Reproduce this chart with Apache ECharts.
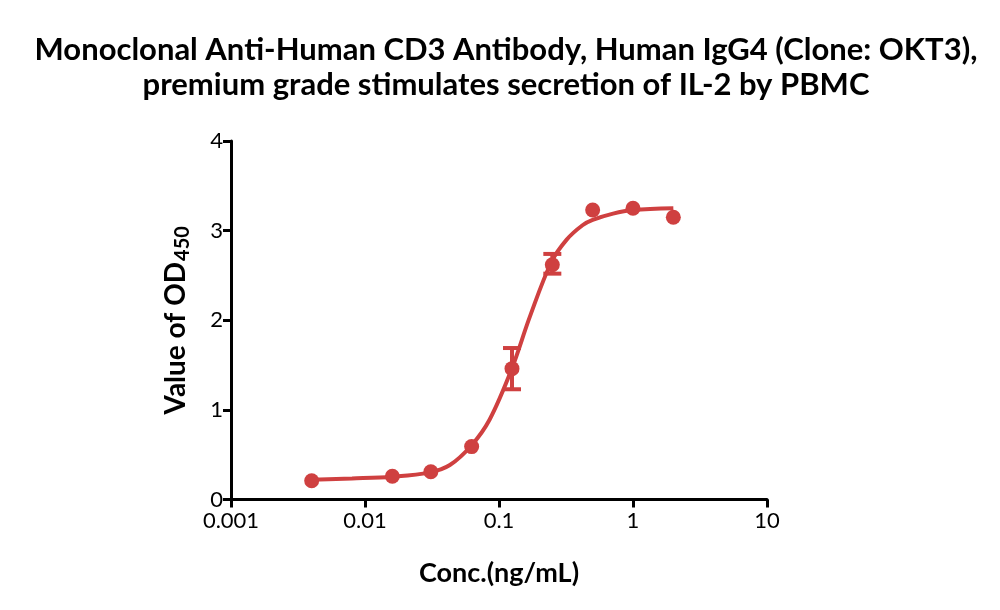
<!DOCTYPE html>
<html>
<head>
<meta charset="utf-8">
<script src="https://cdn.jsdelivr.net/npm/echarts@6/dist/echarts.min.js"></script>
<style>
  html, body { margin: 0; padding: 0; background: #fff; }
  #chart-box { width: 1000px; height: 610px; }
</style>
</head>
<body>
<div id="chart-box"></div>
<script>
// measured points (ng/mL vs OD450)
const conc = [0.004, 0.016, 0.031, 0.0625, 0.125, 0.25, 0.5, 1, 2];
const od = [0.21, 0.26, 0.31, 0.59, 1.46, 2.62, 3.23, 3.25, 3.15];
const errLow = [null, null, null, null, 1.23, 2.52, null, null, null];
const errHigh = [null, null, null, null, 1.69, 2.74, null, null, null];

// fitted curve
const curveConc = [0.004, 0.008, 0.016, 0.03, 0.043, 0.062, 0.085, 0.124, 0.17, 0.246, 0.32, 0.42, 0.5, 0.71, 1, 2];
const curveOd = [0.22, 0.235, 0.255, 0.30, 0.385, 0.60, 0.89, 1.45, 2.04, 2.65, 2.90, 3.06, 3.12, 3.19, 3.23, 3.25];

const xTicks = [0.001, 0.01, 0.1, 1, 10];
const yTicks = [0, 1, 2, 3, 4];

const red = '#cf4040';
const font = 'Lato, "Open Sans", sans-serif';

let page = {
  chart: null,
  init() {
    this.chart = echarts.init(document.querySelector('#chart-box'));
    this.renderChart();
  },

  renderChart() {
    const points = conc.map((c, i) => [c, od[i]]);
    const curve = curveConc.map((c, i) => [c, curveOd[i]]);
    const bars = [];
    conc.forEach((c, i) => {
      if (errLow[i] != null) bars.push([c, errLow[i], errHigh[i]]);
    });

    let option = {
      animation: false,
      title: {
        text: 'Monoclonal Anti-Human CD3 Antibody, Human IgG4 (Clone: OKT3),\npremium grade stimulates secretion of IL-2 by PBMC',
        left: 501,
        top: 27,
        textAlign: 'center',
        textStyle: {
          fontFamily: font,
          fontSize: 31,
          fontWeight: 'bold',
          lineHeight: 35,
          color: '#000'
        }
      },
      grid: { left: 231, right: 233, top: 141, bottom: 110.5 },
      xAxis: {
        type: 'log',
        logBase: 10,
        min: 0.001,
        max: 10,
        name: 'Conc.(ng/mL)',
        nameLocation: 'middle',
        nameGap: 60,
        nameTextStyle: { fontFamily: font, fontSize: 27, fontWeight: 'bold', color: '#000' },
        axisLine: { lineStyle: { color: '#000', width: 3 } },
        axisTick: { length: 8, lineStyle: { width: 3, color: '#000' } },
        minorTick: { show: false },
        splitLine: { show: false },
        axisLabel: {
          fontFamily: font, fontSize: 22, color: '#000', margin: 10,
          formatter(v) {
            const hit = xTicks.find(t => Math.abs(t - v) / t < 1e-6);
            return hit != null ? String(hit) : '';
          }
        }
      },
      yAxis: {
        type: 'value',
        min: yTicks[0],
        max: yTicks[yTicks.length - 1],
        interval: 1,
        name: '{b|Value of OD}{s|450}',
        nameLocation: 'middle',
        nameRotate: 90,
        nameGap: 38,
        nameTextStyle: {
          rich: {
            b: { fontFamily: font, fontSize: 28, fontWeight: 'bold', color: '#000', lineHeight: 34 },
            s: { fontFamily: font, fontSize: 20, fontWeight: 'bold', color: '#000', lineHeight: 34, padding: [14, 0, 0, 1] }
          }
        },
        axisLine: { show: true, lineStyle: { color: '#000', width: 3 } },
        axisTick: { show: true, length: 8, lineStyle: { width: 3, color: '#000' } },
        splitLine: { show: false },
        axisLabel: { fontFamily: font, fontSize: 22, color: '#000', margin: 8 }
      },
      series: [
        {
          name: 'fit',
          type: 'line',
          data: curve,
          smooth: 0.35,
          showSymbol: false,
          lineStyle: { color: red, width: 4 },
          z: 2
        },
        {
          name: 'error',
          type: 'custom',
          data: bars,
          renderItem(params, api) {
            const x = api.value(0);
            const lo = api.coord([x, api.value(1)]);
            const hi = api.coord([x, api.value(2)]);
            const w = 9;
            const style = { stroke: red, lineWidth: 4 };
            return {
              type: 'group',
              children: [
                { type: 'line', shape: { x1: lo[0], y1: lo[1], x2: hi[0], y2: hi[1] }, style },
                { type: 'line', shape: { x1: lo[0] - w, y1: lo[1], x2: lo[0] + w, y2: lo[1] }, style },
                { type: 'line', shape: { x1: hi[0] - w, y1: hi[1], x2: hi[0] + w, y2: hi[1] }, style }
              ]
            };
          },
          z: 3
        },
        {
          name: 'OD450',
          type: 'scatter',
          data: points,
          symbol: 'circle',
          symbolSize: 15,
          itemStyle: { color: red, opacity: 1 },
          z: 4
        }
      ]
    };
    this.chart.setOption(option);
  }
};

page.init();
</script>
</body>
</html>
